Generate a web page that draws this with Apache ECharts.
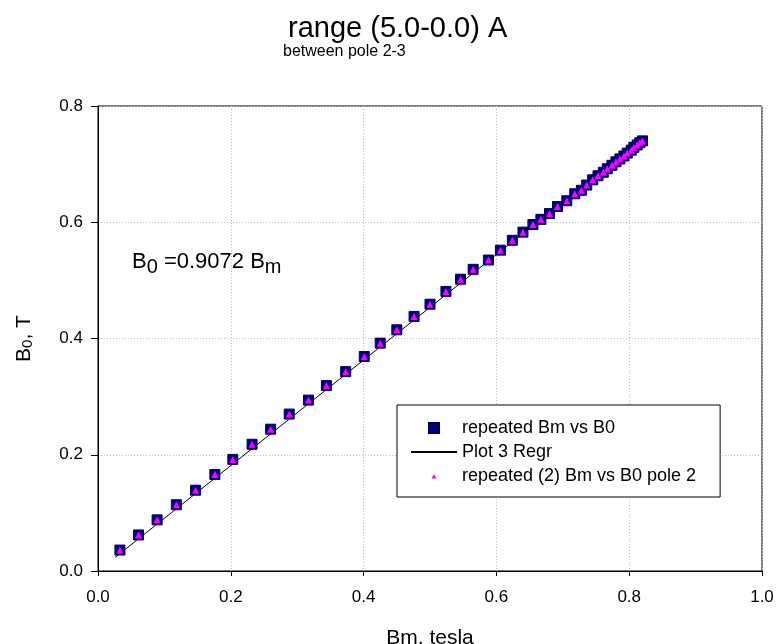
<!DOCTYPE html>
<html>
<head>
<meta charset="utf-8">
<script src="https://cdn.jsdelivr.net/npm/echarts@6/dist/echarts.min.js"></script>
<style>
  html, body { margin: 0; padding: 0; background: #fff; }
  #chart { width: 778px; height: 644px; }
</style>
</head>
<body>
<div id="chart"></div>
<script>
// Measured field at mid-gap (B0) against magnet field (Bm), tesla
const bmValues = [0.033, 0.061, 0.089, 0.118, 0.147, 0.176, 0.203, 0.232, 0.260, 0.288,
                  0.317, 0.344, 0.373, 0.401, 0.425, 0.450, 0.476, 0.500, 0.524, 0.546,
                  0.565, 0.588, 0.606, 0.624, 0.640, 0.655, 0.667, 0.680, 0.692, 0.706,
                  0.718, 0.728, 0.736, 0.745, 0.753, 0.761, 0.767, 0.774, 0.780, 0.786,
                  0.792, 0.797, 0.803, 0.807, 0.812, 0.816, 0.820];
const b0Values = [0.036, 0.062, 0.088, 0.114, 0.139, 0.166, 0.192, 0.218, 0.244, 0.270,
                  0.294, 0.319, 0.343, 0.369, 0.392, 0.415, 0.438, 0.459, 0.481, 0.502,
                  0.519, 0.535, 0.552, 0.569, 0.583, 0.596, 0.605, 0.615, 0.627, 0.637,
                  0.649, 0.655, 0.664, 0.673, 0.680, 0.686, 0.692, 0.698, 0.704, 0.709,
                  0.714, 0.719, 0.724, 0.729, 0.733, 0.737, 0.740];

// Second (repeated) run between pole 2 and 3
const bm2Values = bmValues.slice();
const b02Values = b0Values.slice();

// Regression through the origin
const regrSlope = 0.9072;
const regrX = [0.026, 0.820];

const seriesNames = ['repeated Bm vs B0', 'Plot 3 Regr', 'repeated (2) Bm vs B0 pole 2'];
const xTicks = [0, 0.2, 0.4, 0.6, 0.8, 1.0];
const yTicks = [0, 0.2, 0.4, 0.6, 0.8];

const FONT = '"Liberation Sans", Arial, sans-serif';

// Legend icons as paths so they keep their aspect ratio inside the wide item box;
// the bare move-to points give the triangle a 10x10 frame so it stays small.
const SQUARE_ICON = 'path://M0,0L10,0L10,10L0,10Z';
const TRIANGLE_ICON = 'path://M0,0M10,10M2.5,7.5L5,3L7.5,7.5Z';

const GRID_DOTS = { color: '#bcbcbc', type: [1, 2], width: 1 };

const pairs = (xs, ys) => xs.map((x, i) => [x, ys[i]]);

const chart = echarts.init(document.getElementById('chart'), null, { renderer: 'canvas' });

chart.setOption({
  animation: false,
  backgroundColor: '#fff',
  textStyle: { fontFamily: FONT, color: '#000' },
  title: [
    {
      text: 'range (5.0-0.0) A',
      left: 288, top: 14, padding: 0,
      textStyle: { fontSize: 29, fontWeight: 'normal', color: '#000', fontFamily: FONT }
    },
    {
      text: 'between pole 2-3',
      left: 283, top: 44, padding: 0,
      textStyle: { fontSize: 16, fontWeight: 'normal', color: '#000', fontFamily: FONT }
    }
  ],
  grid: {
    left: 98, right: 16, top: 106, bottom: 73,
    outerBoundsMode: 'none',
    containLabel: false,
    show: true, borderColor: '#000', borderWidth: 1, backgroundColor: '#fff'
  },
  xAxis: {
    type: 'value',
    min: xTicks[0], max: xTicks[xTicks.length - 1], interval: 0.2,
    name: 'Bm, tesla',
    nameLocation: 'middle', nameGap: 57,
    nameTextStyle: { fontSize: 21, color: '#000', fontFamily: FONT },
    axisLine: { lineStyle: { color: '#000', width: 1 } },
    axisTick: { show: true, length: 5, lineStyle: { color: '#000' } },
    axisLabel: {
      fontSize: 17, color: '#000', margin: 18, fontFamily: FONT,
      formatter: v => v.toFixed(1)
    },
    splitLine: { show: true, lineStyle: GRID_DOTS }
  },
  yAxis: {
    type: 'value',
    min: yTicks[0], max: yTicks[yTicks.length - 1], interval: 0.2,
    name: '{b|B}{s|0}{b|, T}',
    nameLocation: 'middle', nameRotate: 90, nameGap: 62,
    nameTextStyle: {
      color: '#000', fontFamily: FONT,
      rich: {
        b: { fontSize: 21, lineHeight: 24, fontFamily: FONT, color: '#000' },
        s: { fontSize: 15, lineHeight: 24, padding: [8, 0, 0, 0], fontFamily: FONT, color: '#000' }
      }
    },
    axisLine: { lineStyle: { color: '#000', width: 1 } },
    axisTick: { show: true, length: 7, lineStyle: { color: '#000' } },
    axisLabel: {
      fontSize: 17, color: '#000', margin: 15, fontFamily: FONT,
      formatter: v => v.toFixed(1)
    },
    splitLine: { show: true, lineStyle: GRID_DOTS }
  },
  legend: {
    data: [
      { name: seriesNames[0], icon: SQUARE_ICON },
      { name: seriesNames[1], itemStyle: { opacity: 0 } },
      { name: seriesNames[2], icon: TRIANGLE_ICON }
    ],
    orient: 'vertical',
    left: 397, top: 405,
    padding: [13, 24, 11, 13],
    itemWidth: 46, itemHeight: 10, itemGap: 4,
    symbolKeepAspect: true,
    backgroundColor: '#fff',
    borderColor: '#000', borderWidth: 1, borderRadius: 0,
    textStyle: { fontSize: 18, lineHeight: 20, color: '#000', fontFamily: FONT },
    selectedMode: false
  },
  graphic: [
    {
      type: 'text',
      left: 132, top: 247,
      style: {
        text: '{b|B}{s|0}{b| =' + regrSlope + ' B}{s|m}',
        rich: {
          b: { fontSize: 22, lineHeight: 26, fontFamily: FONT, fill: '#000' },
          s: { fontSize: 20, lineHeight: 26, padding: [10, 0, 0, 0], fontFamily: FONT, fill: '#000' }
        }
      }
    }
  ],
  series: [
    {
      name: seriesNames[0],
      type: 'scatter',
      symbol: 'rect',
      symbolSize: 10,
      z: 3,
      itemStyle: { color: '#000080', borderColor: '#000060', borderWidth: 1, opacity: 1 },
      data: pairs(bmValues, b0Values)
    },
    {
      name: seriesNames[1],
      type: 'line',
      symbol: 'none',
      z: 2,
      lineStyle: { color: '#000', width: 1 },
      itemStyle: { color: '#000' },
      data: regrX.map(x => [x, regrSlope * x])
    },
    {
      name: seriesNames[2],
      type: 'scatter',
      symbol: 'triangle',
      symbolSize: 7,
      z: 4,
      itemStyle: { color: '#ff00ff', opacity: 1 },
      data: pairs(bm2Values, b02Values)
    }
  ]
});
</script>
</body>
</html>
